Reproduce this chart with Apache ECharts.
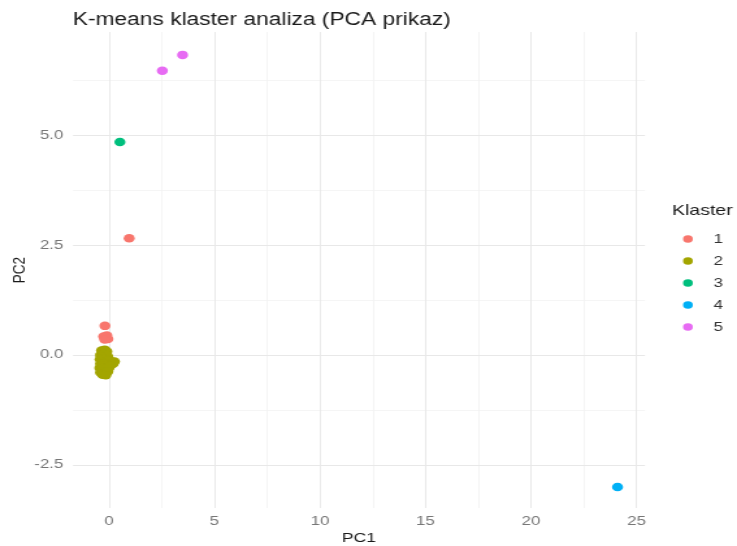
<!DOCTYPE html>
<html>
<head>
<meta charset="utf-8">
<script src="https://cdn.jsdelivr.net/npm/echarts@6/dist/echarts.min.js"></script>
<style>
  html, body { margin: 0; padding: 0; background: #fff; overflow: hidden; }
  /* original slika je rastegnuta po sirini, pa crtamo uze i razvucemo */
  #main { width: 567px; height: 546px; transform: scaleX(1.29982); transform-origin: 0 0; }
</style>
</head>
<body>
<div id="main"></div>
<script>
  // podaci: [PC1, PC2] po klasteru
  var clusterNames = ['1', '2', '3', '4', '5'];
  var clusterColors = ['#F8766D', '#A3A500', '#00BF7D', '#00B0F6', '#E76BF3'];

  var klaster1 = [[0.96, 2.65], [-0.19, 0.66], [-0.25, 0.42], [-0.1, 0.44], [-0.05, 0.36], [-0.2, 0.35]];
  var klaster2 = [
    [-0.35, 0.1], [-0.2, 0.12], [-0.1, 0.08], [-0.4, 0.0], [-0.25, 0.02], [-0.1, 0.0], [-0.05, -0.05],
    [-0.42, -0.1], [-0.3, -0.08], [-0.15, -0.1], [0.0, -0.12], [0.12, -0.15], [0.26, -0.15], [0.2, -0.2],
    [-0.4, -0.2], [-0.25, -0.2], [-0.1, -0.22], [0.05, -0.25], [-0.43, -0.3], [-0.3, -0.3], [-0.15, -0.32],
    [0.0, -0.3], [-0.4, -0.4], [-0.28, -0.42], [-0.15, -0.4], [-0.05, -0.38], [-0.3, -0.45], [-0.15, -0.46]
  ];
  var klaster3 = [[0.52, 4.84]];
  var klaster4 = [[24.1, -3.0]];
  var klaster5 = [[2.53, 6.46], [3.49, 6.82]];
  var clusterData = [klaster1, klaster2, klaster3, klaster4, klaster5];

  // oznake i linije mreze
  var xTicks = [0, 5, 10, 15, 20, 25];
  var xMinor = [2.5, 7.5, 12.5, 17.5, 22.5];
  var yTicks = [-2.5, 0, 2.5, 5];
  var yMinor = [-1.25, 1.25, 3.75, 6.25];

  var font = '"Liberation Sans", Arial, sans-serif';
  var chart = echarts.init(document.getElementById('main'));

  var gridLines = [];
  xMinor.forEach(function (v) { gridLines.push({ xAxis: v, lineStyle: { color: '#F3F3F3', width: 0.8 } }); });
  yMinor.forEach(function (v) { gridLines.push({ yAxis: v, lineStyle: { color: '#F3F3F3', width: 0.8 } }); });
  xTicks.forEach(function (v) { gridLines.push({ xAxis: v, lineStyle: { color: '#E8E8E8', width: 0.9 } }); });
  yTicks.forEach(function (v) { gridLines.push({ yAxis: v, lineStyle: { color: '#E8E8E8', width: 1 } }); });

  var series = [{
    name: 'grid',
    type: 'scatter',
    data: [],
    z: 1,
    silent: true,
    markLine: {
      z: 1,
      silent: true,
      symbol: ['none', 'none'],
      label: { show: false },
      lineStyle: { type: 'solid' },
      emphasis: { disabled: true },
      animation: false,
      data: gridLines
    }
  }];
  clusterNames.forEach(function (n, i) {
    series.push({
      name: n,
      type: 'scatter',
      data: clusterData[i],
      symbolSize: 8.5,
      itemStyle: { color: clusterColors[i], opacity: 1 },
      z: 10
    });
  });

  var option = {
    animation: false,
    backgroundColor: '#fff',
    title: [{
      text: 'K-means klaster analiza (PCA prikaz)',
      left: 56,
      top: 11,
      padding: 0,
      textStyle: { fontFamily: font, fontSize: 17.5, fontWeight: 'normal', color: '#1a1a1a' }
    }, {
      text: 'Klaster',
      left: 517,
      top: 203,
      padding: 0,
      textStyle: { fontFamily: font, fontSize: 15, fontWeight: 'normal', color: '#1a1a1a' }
    }],
    legend: {
      data: clusterNames,
      orient: 'vertical',
      left: 525.5,
      top: 232.5,
      padding: 0,
      itemWidth: 7.5,
      itemHeight: 7.5,
      itemGap: 9,
      icon: 'circle',
      textStyle: { fontFamily: font, fontSize: 13, color: '#333', padding: [0, 0, 0, 11] }
    },
    grid: { left: 56.2, right: 70.8, top: 32, bottom: 38, outerBoundsMode: 'none' },
    xAxis: {
      type: 'value',
      min: -1.7,
      max: 25.4,
      name: 'PC1',
      nameLocation: 'middle',
      nameGap: 23,
      nameMoveOverlap: false,
      nameTextStyle: { fontFamily: font, fontSize: 13.5, color: '#1a1a1a' },
      axisLine: { show: false },
      axisTick: { show: false },
      splitLine: { show: false },
      axisLabel: {
        customValues: xTicks,
        margin: 6.5,
        fontFamily: font, fontSize: 13, color: '#777'
      }
    },
    yAxis: {
      type: 'value',
      min: -3.48,
      max: 7.34,
      name: 'PC2',
      nameLocation: 'middle',
      nameGap: 34,
      nameMoveOverlap: false,
      nameTextStyle: { fontFamily: font, fontSize: 13.5, color: '#1a1a1a' },
      axisLine: { show: false },
      axisTick: { show: false },
      splitLine: { show: false },
      axisLabel: {
        customValues: yTicks,
        margin: 7.5,
        fontFamily: font, fontSize: 13, color: '#777',
        formatter: function (v) { return v.toFixed(1); }
      }
    },
    series: series
  };
  chart.setOption(option);
</script>
</body>
</html>
